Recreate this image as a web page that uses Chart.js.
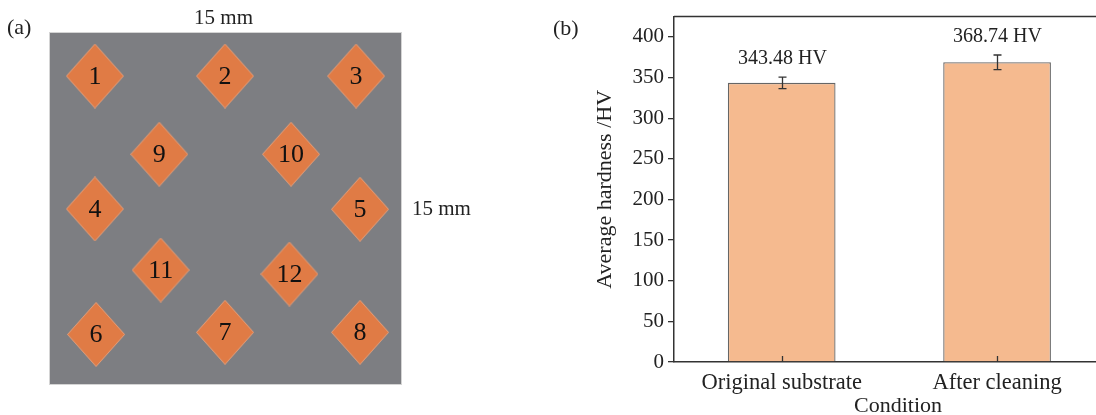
<!DOCTYPE html>
<html>
<head>
<meta charset="utf-8">
<script src="https://cdn.jsdelivr.net/npm/chart.js@4.4.0/dist/chart.umd.min.js"></script>
<style>
  html, body { margin: 0; padding: 0; background: #fff; overflow: hidden; width: 1096px; height: 415px; }
  #layout { position: absolute; left: 0; top: 0; }
  #hardness { position: absolute; left: 540px; top: 0; }
</style>
</head>
<body>
<canvas id="layout" width="540" height="415"></canvas>
<canvas id="hardness" width="590" height="415"></canvas>
<script>
// Indent spots on the 15 mm x 15 mm sample (mm, origin at bottom-left)
const spotLabels = ['1', '2', '3', '4', '5', '6', '7', '8', '9', '10', '11', '12'];
const spotX = [1.92, 7.48, 13.08, 1.92, 13.25, 1.97, 7.48, 13.25, 4.67, 10.30, 4.73, 10.23];
const spotY = [13.16, 13.16, 13.16, 7.48, 7.47, 2.12, 2.21, 2.21, 9.82, 9.82, 4.87, 4.70];

// Average hardness per condition
const conditions = ['Original substrate', 'After cleaning'];
const hardness = [343.48, 368.74];
const hardnessErr = [7, 9];
const yTicks = [0, 50, 100, 150, 200, 250, 300, 350, 400];

const serif = '"Liberation Serif", "Times New Roman", serif';
Chart.defaults.font.family = serif;
Chart.defaults.color = '#222';

// diamond marker used as point style
function makeDiamond(w, h) {
  const c = document.createElement('canvas');
  c.width = w;
  c.height = h;
  const g = c.getContext('2d');
  g.beginPath();
  g.moveTo(w / 2, 0.5);
  g.lineTo(w - 0.5, h / 2);
  g.lineTo(w / 2, h - 0.5);
  g.lineTo(0.5, h / 2);
  g.closePath();
  g.fillStyle = '#e07b45';
  g.fill();
  g.strokeStyle = '#e8a07a';
  g.lineWidth = 1;
  g.stroke();
  return c;
}

// gray sample plate, spot numbers and size notes
const samplePlugin = {
  id: 'sample',
  beforeDatasetsDraw(chart) {
    const {ctx, chartArea: a} = chart;
    ctx.save();
    ctx.fillStyle = '#7d7e82';
    ctx.fillRect(a.left, a.top, a.right - a.left, a.bottom - a.top);
    ctx.strokeStyle = '#d4d4d4';
    ctx.lineWidth = 1;
    ctx.strokeRect(a.left - 0.5, a.top - 0.5, a.right - a.left + 1, a.bottom - a.top + 1);
    ctx.restore();
  },
  afterDatasetsDraw(chart) {
    const {ctx, chartArea: a} = chart;
    const meta = chart.getDatasetMeta(0);
    ctx.save();
    ctx.fillStyle = '#111';
    ctx.textAlign = 'center';
    ctx.textBaseline = 'middle';
    ctx.font = '26px ' + serif;
    meta.data.forEach((pt, i) => {
      ctx.fillText(spotLabels[i], pt.x, pt.y + 1);
    });
    ctx.fillStyle = '#222';
    ctx.font = '21px ' + serif;
    ctx.fillText('15 mm', (a.left + a.right) / 2 - 2, a.top - 15);
    ctx.textAlign = 'left';
    ctx.fillText('15 mm', a.right + 11, (a.top + a.bottom) / 2 + 1);
    ctx.font = '22px ' + serif;
    ctx.fillText('(a)', 7, 28);
    ctx.restore();
  }
};

new Chart(document.getElementById('layout'), {
  type: 'scatter',
  data: {
    datasets: [{
      data: spotX.map((x, i) => ({x: x, y: spotY[i]})),
      pointStyle: makeDiamond(58, 65),
      pointRadius: 30,
    }]
  },
  options: {
    responsive: false,
    animation: false,
    layout: { padding: { left: 50, top: 33, right: 139, bottom: 31 } },
    scales: {
      x: { display: false, min: 0, max: 15 },
      y: { display: false, min: 0, max: 15 },
    },
    plugins: { legend: { display: false }, tooltip: { enabled: false } }
  },
  plugins: [samplePlugin]
});

// frame top, inward x ticks, error bars and value labels
const hardnessPlugin = {
  id: 'hardnessExtras',
  afterDatasetsDraw(chart) {
    const {ctx, chartArea: a} = chart;
    const xs = chart.scales.x;
    const ys = chart.scales.y;
    ctx.save();
    ctx.strokeStyle = '#333';
    ctx.lineWidth = 1.5;
    ctx.beginPath();
    ctx.moveTo(a.left, a.top);
    ctx.lineTo(chart.width, a.top);
    ctx.stroke();

    ctx.lineWidth = 1.3;
    hardness.forEach((v, i) => {
      const x = Math.round(xs.getPixelForValue(i + 1)) + 0.5;
      ctx.beginPath();
      ctx.moveTo(x, a.bottom);
      ctx.lineTo(x, a.bottom - 6);
      ctx.stroke();

      const yHi = ys.getPixelForValue(v + hardnessErr[i]);
      const yLo = ys.getPixelForValue(v - hardnessErr[i]);
      ctx.beginPath();
      ctx.moveTo(x, yHi);
      ctx.lineTo(x, yLo);
      ctx.moveTo(x - 4, yHi);
      ctx.lineTo(x + 4, yHi);
      ctx.moveTo(x - 4, yLo);
      ctx.lineTo(x + 4, yLo);
      ctx.stroke();

      ctx.fillStyle = '#222';
      ctx.font = '20px ' + serif;
      ctx.textAlign = 'center';
      ctx.textBaseline = 'middle';
      ctx.fillText(v.toFixed(2) + ' HV', x, yHi - 18);
    });

    ctx.font = '22px ' + serif;
    ctx.textAlign = 'left';
    ctx.fillText('(b)', 13, 29);
    ctx.restore();
  }
};

new Chart(document.getElementById('hardness'), {
  type: 'bar',
  data: {
    datasets: [{
      data: hardness.map((v, i) => ({x: i + 1, y: v})),
      backgroundColor: '#f5ba8f',
      borderColor: '#666',
      borderWidth: 1.3,
      categoryPercentage: 1,
      barPercentage: 0.5,
    }]
  },
  options: {
    responsive: false,
    animation: false,
    layout: { padding: { top: 14, right: 8 } },
    scales: {
      x: {
        type: 'linear',
        min: 0.5,
        max: 2.58,
        offset: false,
        afterBuildTicks: (s) => { s.ticks = conditions.map((c, i) => ({value: i + 1})); },
        afterFit: (s) => { s.height = 53; },
        grid: { offset: false, drawOnChartArea: false, drawTicks: false },
        border: { color: '#333', width: 1.5 },
        ticks: {
          callback: (v) => conditions[v - 1],
          font: { size: 22.5 },
          padding: 8,
          color: '#222',
          autoSkip: false,
          maxRotation: 0,
        },
        title: {
          display: true,
          text: 'Condition',
          font: { size: 22, lineHeight: 0.76 },
          padding: 0,
          color: '#222',
        }
      },
      y: {
        min: 0,
        max: 425,
        afterBuildTicks: (s) => { s.ticks = yTicks.map(v => ({value: v})); },
        afterFit: (s) => { s.width = 134; },
        grid: { drawOnChartArea: false, tickLength: 6, color: '#333', lineWidth: 1.3 },
        border: { color: '#333', width: 1.5 },
        ticks: { font: { size: 21 }, padding: 4, color: '#222' },
        title: {
          display: true,
          text: 'Average hardness /HV',
          font: { size: 22 },
          padding: { top: 52, bottom: 0 },
          color: '#222',
        }
      }
    },
    plugins: { legend: { display: false }, tooltip: { enabled: false } }
  },
  plugins: [hardnessPlugin]
});
</script>
</body>
</html>
